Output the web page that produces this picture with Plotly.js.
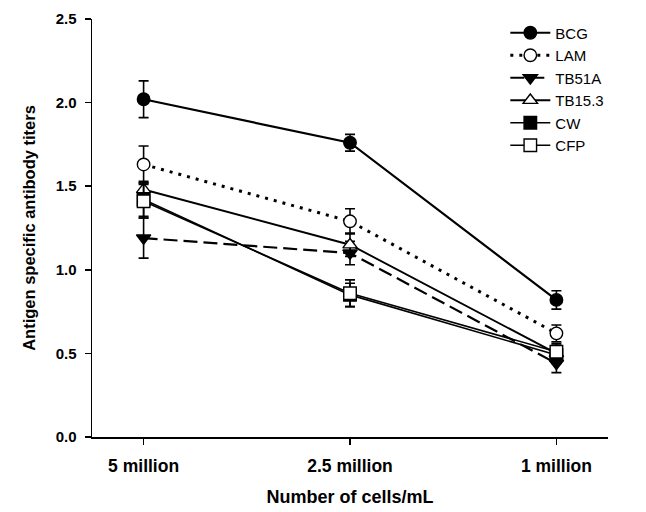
<!DOCTYPE html>
<html><head><meta charset="utf-8">
<script src="https://cdn.plot.ly/plotly-3.0.1.min.js"></script>
<style>html,body{margin:0;padding:0;background:#fff}</style>
</head><body>
<div id="chart" style="width:646px;height:512px"></div>
<script>
const categories = ["5 million", "2.5 million", "1 million"];
const seriesNames = ["BCG", "LAM", "TB51A", "TB15.3", "CW", "CFP"];
const bcg = [2.02, 1.76, 0.82];
const bcgErr = [0.11, 0.05, 0.055];
const lam = [1.63, 1.29, 0.62];
const lamErr = [0.11, 0.075, 0.05];
const tb51a = [1.19, 1.10, 0.44];
const tb51aErr = [0.12, 0.07, 0.055];
const tb153 = [1.48, 1.15, 0.50];
const tb153Err = [0.05, 0.07, 0.05];
const cw = [1.42, 0.85, 0.49];
const cwErr = [0.10, 0.07, 0.05];
const cfp = [1.41, 0.86, 0.51];
const cfpErr = [0.10, 0.08, 0.05];
const yTicks = [0, 0.5, 1.0, 1.5, 2.0, 2.5];
const yTickText = ["0.0", "0.5", "1.0", "1.5", "2.0", "2.5"];

function mk(name, y, err, symbol, open, dash, width) {
  return {
    type: 'scatter', mode: 'lines+markers', name: name,
    x: categories, y: y,
    line: {color: '#000', width: width, dash: dash},
    marker: {symbol: symbol, size: 12.5, color: open ? '#fff' : '#000',
             line: {color: '#000', width: 1.4}},
    error_y: {type: 'data', array: err, visible: true, color: '#000', thickness: 1.6, width: 5}
  };
}
const data = [
  mk(seriesNames[0], bcg, bcgErr, 'circle', false, 'solid', 2.2),
  mk(seriesNames[1], lam, lamErr, 'circle', true, '3px,6px', 3),
  mk(seriesNames[2], tb51a, tb51aErr, 'triangle-down', false, '14px,6px', 2.2),
  mk(seriesNames[3], tb153, tb153Err, 'triangle-up', true, 'solid', 1.9),
  mk(seriesNames[4], cw, cwErr, 'square', false, 'solid', 1.6),
  mk(seriesNames[5], cfp, cfpErr, 'square', true, 'solid', 1.6)
];
const layout = {
  width: 646, height: 512,
  margin: {l: 92, r: 38, t: 19, b: 75},
  paper_bgcolor: '#fff', plot_bgcolor: '#fff',
  font: {family: 'Liberation Sans, Arial, sans-serif', color: '#000'},
  showlegend: true,
  legend: {x: 0.801, y: 1.006, xanchor: 'left', yanchor: 'top', bgcolor: 'rgba(0,0,0,0)',
           font: {size: 15, color: '#000'}, tracegroupgap: 0, itemwidth: 40},
  xaxis: {
    type: 'category', range: [-0.25, 2.25],
    showline: true, linecolor: '#000', linewidth: 1.5, showgrid: false, zeroline: false,
    ticks: 'outside', ticklen: 6, tickwidth: 1.5, tickcolor: '#000',
    ticklabelstandoff: 6,
    tickfont: {size: 17.5, weight: 'bold', color: '#000'},
    title: {text: 'Number of cells/mL', font: {size: 18, weight: 'bold', color: '#000'}, standoff: 16}
  },
  yaxis: {
    range: [0, 2.5], tickvals: yTicks, ticktext: yTickText,
    showline: true, linecolor: '#000', linewidth: 1.5, showgrid: false, zeroline: false,
    ticks: 'outside', ticklen: 6, tickwidth: 1.5, tickcolor: '#000',
    ticklabelstandoff: 5,
    tickfont: {size: 15, weight: 'bold', color: '#000'},
    title: {text: 'Antigen specific antibody titers', font: {size: 16.5, weight: 'bold', color: '#000'}, standoff: 16}
  }
};
Plotly.newPlot('chart', data, layout, {displayModeBar: false, staticPlot: true});
</script>
</body></html>
